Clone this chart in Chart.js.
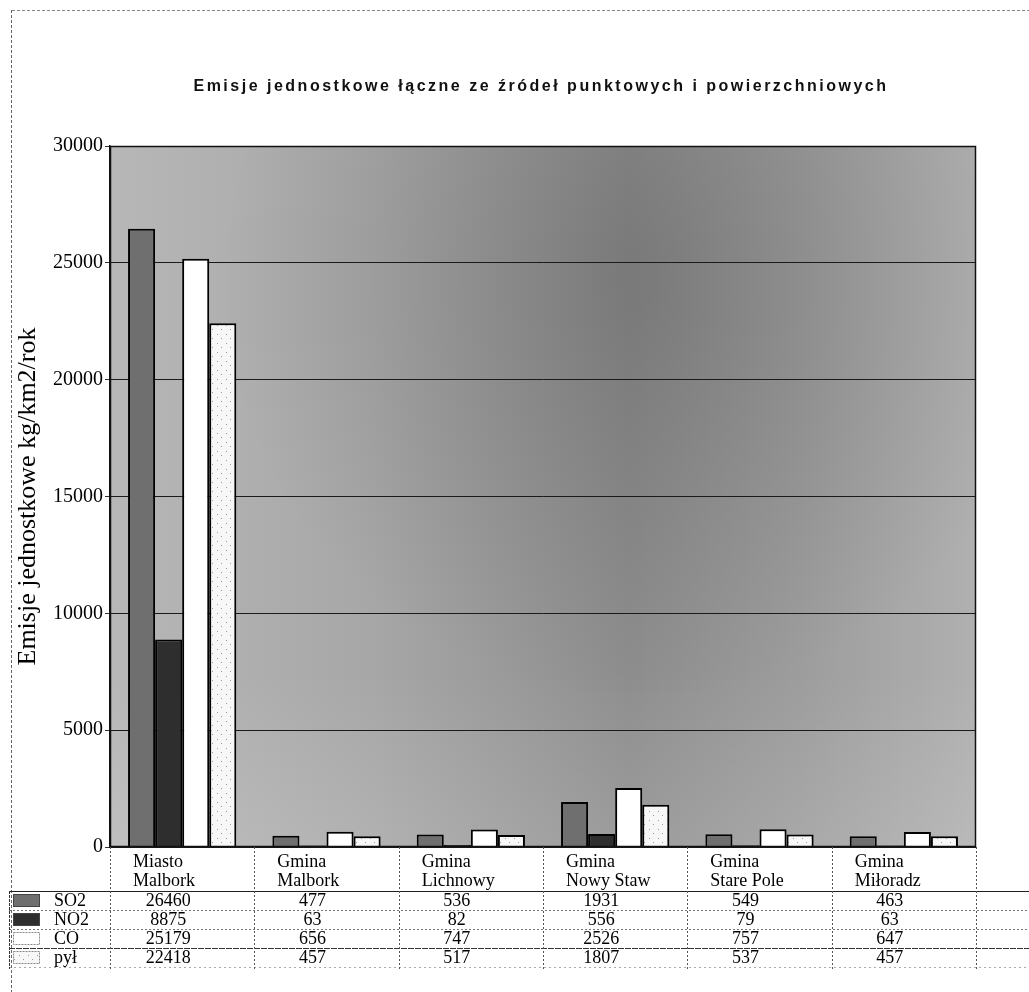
<!DOCTYPE html>
<html lang="pl">
<head>
<meta charset="utf-8">
<title>Emisje jednostkowe</title>
<script src="https://cdn.jsdelivr.net/npm/chart.js@4.4.1/dist/chart.umd.min.js"></script>
<style>
  html, body { margin: 0; padding: 0; background: #fff; }
  #wrap { position: relative; width: 1029px; height: 992px; }
</style>
</head>
<body>
<div id="wrap"><canvas id="c" width="1029" height="992"></canvas></div>
<script>
// ---- data ----
const chartTitle = 'Emisje jednostkowe łączne ze źródeł punktowych i powierzchniowych';
const yAxisTitle = 'Emisje jednostkowe kg/km2/rok';
const categories = [
  ['Miasto', 'Malbork'],
  ['Gmina', 'Malbork'],
  ['Gmina', 'Lichnowy'],
  ['Gmina', 'Nowy Staw'],
  ['Gmina', 'Stare Pole'],
  ['Gmina', 'Miłoradz']
];
const seriesNames = ['SO2', 'NO2', 'CO', 'pył'];
const so2 = [26460, 477, 536, 1931, 549, 463];
const no2 = [8875, 63, 82, 556, 79, 63];
const co  = [25179, 656, 747, 2526, 757, 647];
const pyl = [22418, 457, 517, 1807, 537, 457];
const yMin = 0, yMax = 30000, yStep = 5000;

// ---- fills ----
function dotPattern(bg, dot, size) {
  const p = document.createElement('canvas');
  p.width = size; p.height = size;
  const g = p.getContext('2d');
  g.fillStyle = bg; g.fillRect(0, 0, size, size);
  g.fillStyle = dot;
  g.fillRect(1, 1, 1, 1);
  g.fillRect(Math.floor(size / 2) + 1, Math.floor(size / 2) + 1, 1, 1);
  return g.createPattern(p, 'repeat');
}
const ctx = document.getElementById('c').getContext('2d');
const fills = ['#6f6f6f', '#2e2e2e', '#ffffff', dotPattern('#f7f7f7', '#9a9a9a', 9)];
const seriesValues = [so2, no2, co, pyl];

const SERIF = '"Liberation Serif", "Times New Roman", serif';
const SANS = '"Liberation Sans", Arial, sans-serif';

// plot background: light grey at the edges, darker toward the upper middle
const backdrop = {
  id: 'backdrop',
  beforeDraw(chart) {
    const c = chart.ctx, a = chart.chartArea;
    c.save();
    c.fillStyle = '#fff';
    c.fillRect(0, 0, chart.width, chart.height);
    const lg = c.createLinearGradient(a.left, 0, a.right, 0);
    lg.addColorStop(0, '#b7b7b7');
    lg.addColorStop(0.3, '#a7a7a7');
    lg.addColorStop(0.6, '#8e8e8e');
    lg.addColorStop(0.8, '#9d9d9d');
    lg.addColorStop(1, '#b0b0b0');
    c.fillStyle = lg;
    c.fillRect(a.left, a.top, a.right - a.left, a.bottom - a.top);
    const rg = c.createRadialGradient(640, 280, 20, 640, 280, 420);
    rg.addColorStop(0, 'rgba(40,40,40,0.2)');
    rg.addColorStop(1, 'rgba(40,40,40,0)');
    c.fillStyle = rg;
    c.fillRect(a.left, a.top, a.right - a.left, a.bottom - a.top);
    const vg = c.createLinearGradient(0, a.top, 0, a.bottom);
    vg.addColorStop(0, 'rgba(255,255,255,0)');
    vg.addColorStop(0.75, 'rgba(255,255,255,0)');
    vg.addColorStop(1, 'rgba(255,255,255,0.12)');
    c.fillStyle = vg;
    c.fillRect(a.left, a.top, a.right - a.left, a.bottom - a.top);
    c.restore();
  }
};

function hLine(c, x0, x1, y, dash, color, w) {
  c.save();
  c.strokeStyle = color; c.lineWidth = w || 1;
  c.setLineDash(dash || []);
  c.beginPath(); c.moveTo(x0, y + 0.5); c.lineTo(x1, y + 0.5); c.stroke();
  c.restore();
}
function vLine(c, x, y0, y1, dash, color, w) {
  c.save();
  c.strokeStyle = color; c.lineWidth = w || 1;
  c.setLineDash(dash || []);
  c.beginPath(); c.moveTo(x + 0.5, y0); c.lineTo(x + 0.5, y1); c.stroke();
  c.restore();
}

// title, plot frame, category labels and the data table under the axis
const tableAndTitle = {
  id: 'tableAndTitle',
  afterDraw(chart) {
    const c = chart.ctx, a = chart.chartArea, xs = chart.scales.x;
    c.save();

    // plot frame
    c.strokeStyle = '#111'; c.lineWidth = 1.5;
    c.strokeRect(a.left + 0.5, a.top + 0.5, a.right - a.left - 1, a.bottom - a.top - 1);

    // outer page frame
    hLine(c, 12, 1029, 10, [3, 2], '#888', 1);
    vLine(c, 11, 10, 992, [3, 2], '#666', 1);

    // title, spread to its full width
    c.font = 'bold 16px ' + SANS;
    c.fillStyle = '#111';
    c.textAlign = 'center';
    c.textBaseline = 'middle';
    const targetW = 695;
    c.letterSpacing = '0px';
    const natural = c.measureText(chartTitle).width;
    const sp = Math.max(0, (targetW - natural) / chartTitle.length);
    c.letterSpacing = sp.toFixed(2) + 'px';
    c.fillText(chartTitle, 541, 87);
    c.letterSpacing = '0px';

    // table geometry from the category scale
    const step = xs.getPixelForValue(1) - xs.getPixelForValue(0);
    const bounds = [];
    for (let i = 0; i <= categories.length; i++) bounds.push(xs.getPixelForValue(0) - step / 2 + i * step);
    const headTop = a.bottom, headBottom = 891;
    const rowH = 19;
    const rowsBottom = headBottom + rowH * seriesNames.length;

    // category labels (two lines, left aligned inside each column)
    c.font = '18px ' + SERIF;
    c.textAlign = 'left';
    c.textBaseline = 'alphabetic';
    c.fillStyle = '#000';
    categories.forEach((lines, i) => {
      lines.forEach((t, k) => c.fillText(t, bounds[i] + 23, 867 + k * 19));
    });

    // table lines
    hLine(c, 9, 1029, headBottom, [], '#222', 1.2);
    for (let r = 1; r < seriesNames.length; r++) {
      const y = headBottom + r * rowH;
      hLine(c, 9, 1029, y, r === 3 ? [6, 1] : [2, 2], r === 3 ? '#333' : '#777', 1);
    }
    hLine(c, 9, 1029, rowsBottom, [2, 3], '#aaa', 1);
    vLine(c, 9, headBottom, rowsBottom + 2, [3, 1], '#333', 1);
    bounds.forEach((bx) => {
      vLine(c, Math.round(bx), headTop, rowsBottom + 3, [2, 2], '#555', 1);
    });

    // legend keys and values
    seriesNames.forEach((name, r) => {
      const yc = headBottom + r * rowH + rowH / 2;
      const sx = 13, sw = 27, sh = 13;
      c.fillStyle = fills[r];
      c.fillRect(sx, yc - sh / 2, sw, sh);
      c.save();
      c.strokeStyle = r < 2 ? '#444' : '#888';
      c.setLineDash(r < 2 ? [] : [2, 1]);
      c.lineWidth = 1;
      c.strokeRect(sx + 0.5, yc - sh / 2 + 0.5, sw - 1, sh - 1);
      c.restore();

      c.fillStyle = '#000';
      c.font = '18px ' + SERIF;
      c.textBaseline = 'middle';
      c.textAlign = 'left';
      c.fillText(name, 54, yc + 1);
      c.textAlign = 'center';
      seriesValues[r].forEach((v, i) => {
        c.fillText(String(v), xs.getPixelForValue(i) - 14, yc + 1);
      });
    });

    c.restore();
  }
};

new Chart(ctx, {
  type: 'bar',
  data: {
    labels: categories,
    datasets: seriesNames.map((name, k) => ({
      label: name,
      data: seriesValues[k],
      backgroundColor: fills[k],
      borderColor: '#000',
      borderWidth: 2,
      borderSkipped: 'bottom',
      categoryPercentage: 0.75,
      barPercentage: 1.0
    }))
  },
  options: {
    responsive: false,
    animation: false,
    devicePixelRatio: 1,
    layout: { padding: { top: 146, left: 0, right: 53, bottom: 145 } },
    plugins: {
      legend: { display: false },
      title: { display: false },
      tooltip: { enabled: false }
    },
    scales: {
      x: {
        ticks: { display: false },
        grid: { display: false, drawTicks: false },
        border: { display: false },
        afterFit(s) { s.height = 0; }
      },
      y: {
        min: yMin,
        max: yMax,
        ticks: {
          stepSize: yStep,
          color: '#000',
          padding: 2,
          font: { family: SERIF, size: 20 },
          callback: v => String(v)
        },
        grid: { color: '#1a1a1a', lineWidth: 1, tickLength: 5, tickColor: '#333' },
        border: { display: true, color: '#111', width: 1.5 },
        title: {
          display: true,
          text: yAxisTitle,
          color: '#000',
          font: { family: SERIF, size: 26 },
          padding: { top: 13, bottom: 0 }
        },
        afterFit(s) { s.width = 110; }
      }
    }
  },
  plugins: [backdrop, tableAndTitle]
});
</script>
</body>
</html>
